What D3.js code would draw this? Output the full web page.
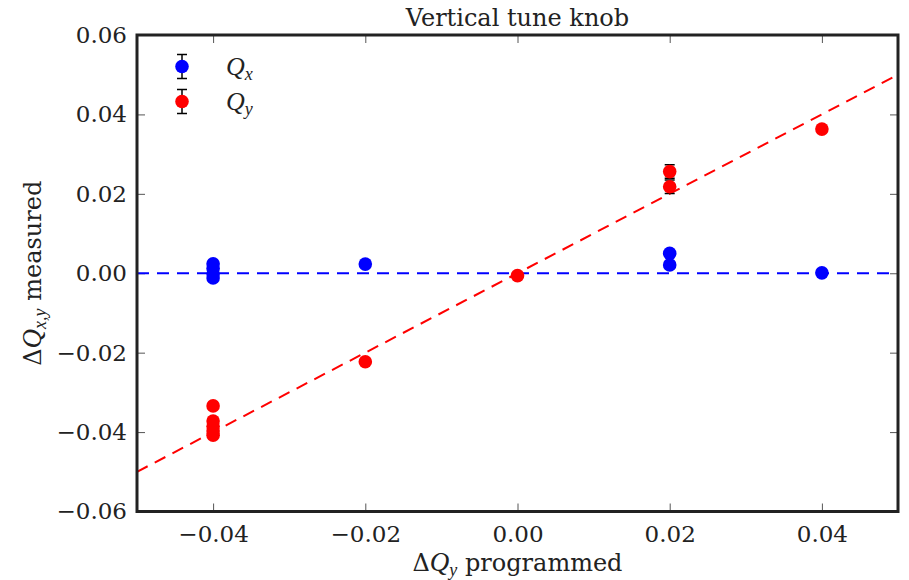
<!DOCTYPE html>
<meta charset="utf-8">
<style>
  body { margin: 0; background: #fff; }
  svg { font-family: "DejaVu Serif", serif; }
  .tick text { font-family: "DejaVu Serif", serif; font-size: 23px; fill: #222; }
  .math { font-family: "Liberation Serif", serif; font-style: italic; }
</style>
<body></body>
<script src="https://d3js.org/d3.v7.min.js"></script>
<script>
  // data
  var qxX = [-0.04, -0.04, -0.04, -0.04, -0.02, 0.02, 0.02, 0.04];
  var qxY = [0.0024, 0.0012, -0.0002, -0.0012, 0.0023, 0.0050, 0.0021, 0.0001];
  var qxErr = [0.0004, 0.0004, 0.0004, 0.0004, 0.0004, 0.0004, 0.0004, 0.0004];

  var qyX = [-0.04, -0.04, -0.04, -0.04, -0.04, -0.02, 0.00, 0.02, 0.02, 0.04];
  var qyY = [-0.0334, -0.0372, -0.0385, -0.0397, -0.0408, -0.0223, -0.0006, 0.0256, 0.0218, 0.0363];
  var qyErr = [0.0004, 0.0004, 0.0004, 0.0004, 0.0004, 0.0004, 0.0004, 0.0017, 0.0017, 0.0004];

  var xTicks = [-0.04, -0.02, 0.00, 0.02, 0.04];
  var yTicks = [-0.06, -0.04, -0.02, 0.00, 0.02, 0.04, 0.06];

  var fitX = [-0.05, 0.05];
  var fitQx = [0, 0];
  var fitQy = [-0.05, 0.05];

  var margin = {top: 35, right: 11, bottom: 68.5, left: 137},
    W = 909, H = 580,
    width = W - margin.left - margin.right,
    height = H - margin.top - margin.bottom;

  var x = d3.scaleLinear().domain([-0.05, 0.05]).range([0, width]);
  var y = d3.scaleLinear().domain([-0.06, 0.06]).range([height, 0]);
  var fmt = d3.format(".2f");

  var svg = d3.select("body").append("svg")
    .attr("width", W).attr("height", H);
  var g = svg.append("g")
    .attr("transform", "translate(" + margin.left + "," + margin.top + ")");

  g.append("defs").append("clipPath").attr("id", "clip")
    .append("rect").attr("width", width).attr("height", height);

  // axes, ticks inward
  function styleAxis(sel, hideText) {
    sel.attr("font-family", null).attr("font-size", null);
    sel.select(".domain").remove();
    sel.selectAll(".tick line").attr("stroke", "#555").attr("stroke-width", 1);
    if (hideText) sel.selectAll(".tick text").remove();
  }
  g.append("g").attr("transform", "translate(0," + height + ")")
    .call(d3.axisBottom(x).tickValues(xTicks).tickFormat(fmt).tickSizeInner(-8).tickPadding(14))
    .call(styleAxis, false);
  g.append("g")
    .call(d3.axisTop(x).tickValues(xTicks).tickSizeInner(-8))
    .call(styleAxis, true);
  g.append("g")
    .call(d3.axisLeft(y).tickValues(yTicks).tickFormat(fmt).tickSizeInner(-8).tickPadding(10))
    .call(styleAxis, false);
  g.append("g").attr("transform", "translate(" + width + ",0)")
    .call(d3.axisRight(y).tickValues(yTicks).tickSizeInner(-8))
    .call(styleAxis, true);

  var plot = g.append("g").attr("clip-path", "url(#clip)");

  // fitted dashed lines
  var line = d3.line().x(function(d) { return x(d[0]); }).y(function(d) { return y(d[1]); });
  plot.append("path").datum(d3.zip(fitX, fitQx))
    .attr("d", line).attr("fill", "none").attr("stroke", "blue")
    .attr("stroke-width", 2).attr("stroke-dasharray", "12,8");
  plot.append("path").datum(d3.zip(fitX, fitQy))
    .attr("d", line).attr("fill", "none").attr("stroke", "red")
    .attr("stroke-width", 2).attr("stroke-dasharray", "12,8");

  function series(xs, ys, es, color) {
    var d = d3.range(xs.length).map(function(i) { return [xs[i], ys[i], es[i]]; });
    var eb = plot.append("g").attr("stroke", "black").attr("stroke-width", 1.5);
    d.forEach(function(p) {
      var cx = x(p[0]);
      eb.append("line").attr("x1", cx).attr("x2", cx)
        .attr("y1", y(p[1] - p[2])).attr("y2", y(p[1] + p[2]));
      [p[1] - p[2], p[1] + p[2]].forEach(function(v) {
        eb.append("line").attr("x1", cx - 5).attr("x2", cx + 5)
          .attr("y1", y(v)).attr("y2", y(v));
      });
    });
    plot.append("g").selectAll("circle").data(d).enter().append("circle")
      .attr("cx", function(p) { return x(p[0]); })
      .attr("cy", function(p) { return y(p[1]); })
      .attr("r", 6.8).attr("fill", color);
  }
  series(qxX, qxY, qxErr, "blue");
  series(qyX, qyY, qyErr, "red");

  // frame
  g.append("rect").attr("width", width).attr("height", height)
    .attr("fill", "none").attr("stroke", "#222").attr("stroke-width", 3);

  // legend
  var legend = [["blue", "x"], ["red", "y"]];
  legend.forEach(function(l, i) {
    var ly = 66.5 + i * 35 - margin.top, lx = 182 - margin.left;
    var lg = g.append("g");
    lg.append("line").attr("x1", lx).attr("x2", lx).attr("y1", ly - 12).attr("y2", ly + 12)
      .attr("stroke", "black").attr("stroke-width", 1.5);
    [ly - 12, ly + 12].forEach(function(v) {
      lg.append("line").attr("x1", lx - 5).attr("x2", lx + 5).attr("y1", v).attr("y2", v)
        .attr("stroke", "black").attr("stroke-width", 1.5);
    });
    lg.append("circle").attr("cx", lx).attr("cy", ly).attr("r", 6.8).attr("fill", l[0]);
    var t = lg.append("text").attr("x", 226 - margin.left).attr("y", ly + 8)
      .attr("class", "math").style("font-size", "26px").attr("fill", "#222");
    t.append("tspan").text("Q");
    t.append("tspan").attr("dy", 5).style("font-size", "18px").text(l[1]);
  });

  // title and axis labels
  svg.append("text").attr("x", margin.left + width / 2).attr("y", 26)
    .attr("text-anchor", "middle").style("font-size", "24px").attr("fill", "#222")
    .text("Vertical tune knob");

  var xl = svg.append("text").attr("x", margin.left + width / 2).attr("y", 571)
    .attr("text-anchor", "middle").style("font-size", "24px").attr("fill", "#222");
  xl.append("tspan").text("Δ");
  xl.append("tspan").attr("class", "math").style("font-size", "27px").text("Q");
  xl.append("tspan").attr("class", "math").attr("dy", 5).style("font-size", "18px").text("y");
  xl.append("tspan").attr("dy", -5).text(" programmed");

  var yl = svg.append("text")
    .attr("transform", "translate(41," + (margin.top + height / 2) + ") rotate(-90)")
    .attr("text-anchor", "middle").style("font-size", "24px").attr("fill", "#222");
  yl.append("tspan").text("Δ");
  yl.append("tspan").attr("class", "math").style("font-size", "27px").text("Q");
  yl.append("tspan").attr("class", "math").attr("dy", 5).style("font-size", "18px").text("x,y");
  yl.append("tspan").attr("dy", -5).text(" measured");
</script>
